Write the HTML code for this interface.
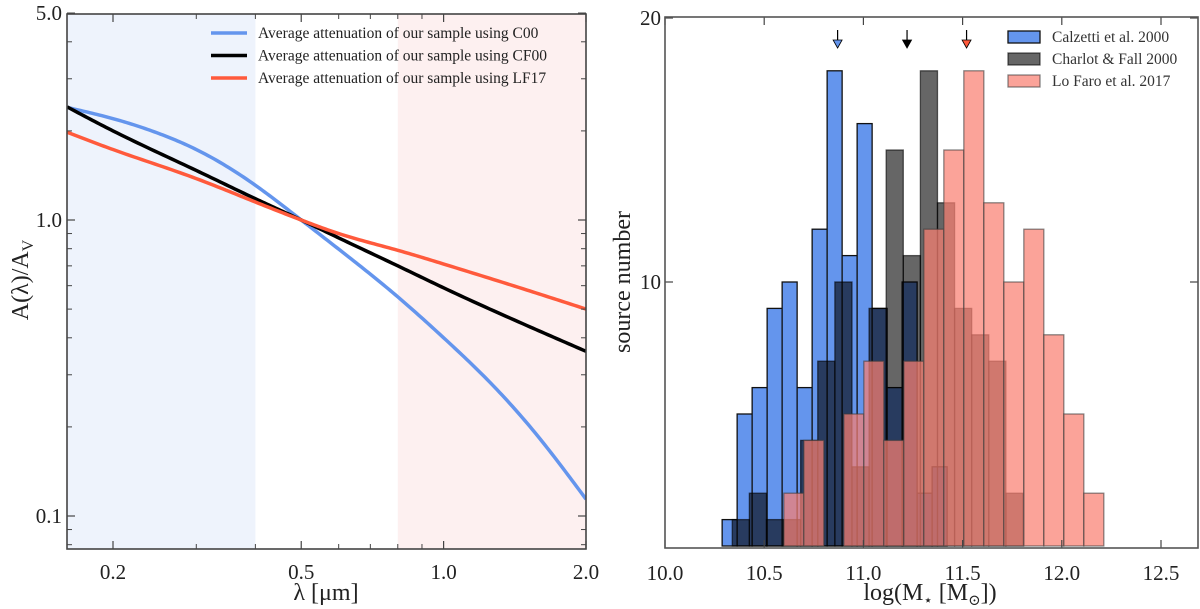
<!DOCTYPE html>
<html><head><meta charset="utf-8">
<style>
html,body{margin:0;padding:0;background:#fff;}
svg{display:block;}
svg text{font-family:"Liberation Serif","DejaVu Serif",serif;}
</style></head>
<body>
<svg id="fig" width="1200" height="609" viewBox="0 0 1200 609" xmlns="http://www.w3.org/2000/svg" font-family="Liberation Serif, serif"></svg>
<script>
// ---------- Left panel data ----------
const lamC00 = [0.16,0.2,0.25,0.3,0.4,0.5,0.63,0.8,1.0,1.25,1.6,2.0];
const valC00 = [2.40,2.20,1.96,1.73,1.31,1.0,0.75,0.55,0.40,0.284,0.182,0.114];
const lamCF00 = [0.16,0.2,0.3,0.4,0.5,0.6,0.8,1.0,1.5,2.0];
const valCF00 = [2.41,2.0,1.47,1.18,1.0,0.87,0.70,0.59,0.44,0.36];
const lamLF17 = [0.16,0.2,0.3,0.4,0.5,0.6,0.8,1.0,1.5,2.0];
const valLF17 = [1.98,1.73,1.38,1.15,1.0,0.9,0.79,0.71,0.58,0.5];
const xMajorLeft = [0.2,0.5,1.0,2.0];
const xMajorLeftLabels = ["0.2","0.5","1.0","2.0"];
const xMinorLeft = [0.3,0.4,0.6,0.7,0.8,0.9];
const yMajorLeft = [0.1,1.0,5.0];
const yMajorLeftLabels = ["0.1","1.0","5.0"];
const yMinorLeft = [0.08,0.09,0.2,0.3,0.4,0.5,0.6,0.7,0.8,0.9,2,3,4];

// ---------- Right panel data ----------
const blueStart = 10.288, blueWidth = 0.0756;
const blueCounts = [1,5,6,9,10,6,12,18,11,16,9,6,10,2,3];
const blackStart = 10.339, blackWidth = 0.0862;
const blackCounts = [1,2,1,1,4,7,10,3,9,15,11,18,13,9,8,7,2];
const redStart = 10.599, redWidth = 0.1008;
const redCounts = [2,4,0,5,7,4,7,12,15,18,13,10,12,8,5,2];
const meanMasses = [10.87,11.22,11.52];
const xTicksRight = [10.0,10.5,11.0,11.5,12.0,12.5];
const xTicksRightLabels = ["10.0","10.5","11.0","11.5","12.0","12.5"];
const yTicksRight = [10,20];
const yTicksRightLabels = ["10","20"];

const NS = "http://www.w3.org/2000/svg";
const svg = document.getElementById('fig');
function mk(tag, attrs, parent){
  const e = document.createElementNS(NS, tag);
  for (const k in attrs) e.setAttribute(k, attrs[k]);
  (parent||svg).appendChild(e);
  return e;
}

// ---------- Left axes ----------
const L = {x0:67, x1:586, y0:14, y1:549};
const lx = v => 113 + 473*(Math.log10(v) - Math.log10(0.2));
const ly = v => 220 - 296*Math.log10(v);

const gL = mk('g', {});



const shadeUV = mk('rect', {x:L.x0, y:L.y0, width:lx(0.4)-L.x0, height:L.y1-L.y0, fill:'#eef3fc'}, gL);


const shadeIR = mk('rect', {x:lx(0.8), y:L.y0, width:L.x1-lx(0.8), height:L.y1-L.y0, fill:'#fdf0f0'}, gL);



// natural cubic spline in log-log space, sampled densely
function curvePath(xs, ys){
  const X = xs.map(v=>Math.log10(v)), Y = ys.map(v=>Math.log10(v));
  const n = X.length;
  const h = [], a = [], l = [1], mu = [0], z = [0], c = new Array(n).fill(0), b = [], d = [];
  for (let i=0;i<n-1;i++) h.push(X[i+1]-X[i]);
  for (let i=1;i<n-1;i++) a[i] = 3/h[i]*(Y[i+1]-Y[i]) - 3/h[i-1]*(Y[i]-Y[i-1]);
  for (let i=1;i<n-1;i++){
    l[i] = 2*(X[i+1]-X[i-1]) - h[i-1]*mu[i-1];
    mu[i] = h[i]/l[i];
    z[i] = (a[i]-h[i-1]*z[i-1])/l[i];
  }
  for (let j=n-2;j>=0;j--){
    c[j] = (j===0?0:z[j]) - (j===0?0:mu[j])*c[j+1];
    b[j] = (Y[j+1]-Y[j])/h[j] - h[j]*(c[j+1]+2*c[j])/3;
    d[j] = (c[j+1]-c[j])/(3*h[j]);
  }
  let dstr = '';
  for (let j=0;j<n-1;j++){
    for (let k=0;k<=20;k++){
      if (j>0 && k===0) continue;
      const t = h[j]*k/20;
      const yv = Y[j] + b[j]*t + c[j]*t*t + d[j]*t*t*t;
      const px = lx(Math.pow(10, X[j]+t)), py = ly(Math.pow(10, yv));
      dstr += (dstr? ' L':'M') + px.toFixed(2)+','+py.toFixed(2);
    }
  }
  return dstr;
}
const clip = mk('clipPath', {id:'clipL'});
mk('rect', {x:L.x0, y:L.y0, width:L.x1-L.x0, height:L.y1-L.y0}, clip);
const gCurves = mk('g', {'clip-path':'url(#clipL)'}, gL);
const cB = mk('path', {d:curvePath(lamC00,valC00), fill:'none', stroke:'#6495ed', 'stroke-width':3.5, 'stroke-linejoin':'round'}, gCurves);


const cK = mk('path', {d:curvePath(lamCF00,valCF00), fill:'none', stroke:'#000', 'stroke-width':3.5, 'stroke-linejoin':'round'}, gCurves);


const cR = mk('path', {d:curvePath(lamLF17,valLF17), fill:'none', stroke:'#ff5a3c', 'stroke-width':3.5, 'stroke-linejoin':'round'}, gCurves);



const tickCol = '#444';
xMajorLeft.forEach((v,i)=>{
  const x = lx(v);
  mk('line',{x1:x,y1:L.y1,x2:x,y2:L.y1-8,stroke:tickCol,'stroke-width':1.2},gL);
  mk('line',{x1:x,y1:L.y0,x2:x,y2:L.y0+8,stroke:tickCol,'stroke-width':1.2},gL);
  const t = mk('text',{x:x,y:579,'font-size':21,'text-anchor':'middle',fill:'#222'},gL);
  t.textContent = xMajorLeftLabels[i];
  
  
});
xMinorLeft.forEach(v=>{
  const x = lx(v);
  mk('line',{x1:x,y1:L.y1,x2:x,y2:L.y1-5,stroke:tickCol,'stroke-width':1},gL);
  mk('line',{x1:x,y1:L.y0,x2:x,y2:L.y0+5,stroke:tickCol,'stroke-width':1},gL);
});
yMajorLeft.forEach((v,i)=>{
  const y = ly(v);
  mk('line',{x1:L.x0,y1:y,x2:L.x0+8,y2:y,stroke:tickCol,'stroke-width':1.2},gL);
  mk('line',{x1:L.x1,y1:y,x2:L.x1-8,y2:y,stroke:tickCol,'stroke-width':1.2},gL);
  const t = mk('text',{x:62,y:y+7,'font-size':21,'text-anchor':'end',fill:'#222'},gL);
  t.textContent = yMajorLeftLabels[i];
  
  
});
yMinorLeft.forEach(v=>{
  const y = ly(v);
  if (y < L.y0 || y > L.y1) return;
  mk('line',{x1:L.x0,y1:y,x2:L.x0+5,y2:y,stroke:tickCol,'stroke-width':1},gL);
  mk('line',{x1:L.x1,y1:y,x2:L.x1-5,y2:y,stroke:tickCol,'stroke-width':1},gL);
});
const frameL = mk('rect',{x:L.x0,y:L.y0,width:L.x1-L.x0,height:L.y1-L.y0,fill:'none',stroke:'#444','stroke-width':1.6},gL);



const xlabL = mk('text',{x:326,y:600,'font-size':24,'text-anchor':'middle',fill:'#222'},gL);
xlabL.textContent = 'λ [μm]';


const ylabL = mk('text',{x:0,y:0,'font-size':24,'text-anchor':'middle',fill:'#222',transform:'translate(28,280) rotate(-90)'},gL);
ylabL.innerHTML = 'A(λ)/A<tspan font-size="16" dy="5">V</tspan>';



const legL = [['#6495ed','Average attenuation of our sample using C00'],['#000','Average attenuation of our sample using CF00'],['#ff5a3c','Average attenuation of our sample using LF17']];
legL.forEach((e,i)=>{
  const y = 33 + i*22.5;
  const g = mk('g',{},gL);
  
  
  mk('line',{x1:211,y1:y,x2:247,y2:y,stroke:e[0],'stroke-width':3.5},g);
  const t = mk('text',{x:258,y:y+5,'font-size':15.5,fill:'#222'},g);
  t.textContent = e[1];
});

// ---------- Right axes ----------
const R = {x0:665, x1:1198, y0:17, y1:548};
const rx = v => 665 + 198.4*(v-10);
const ry = v => 546 - 26.4*v;
const gR = mk('g',{});



function drawHist(start,width,counts,fill,op,stroke,name){
  const g = mk('g',{},gR);
  
  
  counts.forEach((c,i)=>{
    if (c<=0) return;
    const x0 = rx(start+i*width), x1 = rx(start+(i+1)*width);
    const b = mk('rect',{x:x0,y:ry(c),width:x1-x0,height:ry(0)-ry(c),fill:fill,'fill-opacity':op,stroke:stroke,'stroke-width':1.3},g);
    
    
  });
}
drawHist(blueStart,blueWidth,blueCounts,'#6495ed',1,'#111','calzetti-histogram');
drawHist(blackStart,blackWidth,blackCounts,'#000',0.6,'rgba(0,0,0,0.6)','charlot-fall-histogram');
drawHist(redStart,redWidth,redCounts,'#fa8072',0.72,'rgba(60,60,60,0.6)','lo-faro-histogram');

const arrowCols = ['#6495ed','#000','#ff5a3c'];
meanMasses.forEach((m,i)=>{
  const x = rx(m);
  const g = mk('g',{},gR);
  
  
  mk('line',{x1:x,y1:30,x2:x,y2:41,stroke:'#000','stroke-width':1.2},g);
  mk('polygon',{points:(x-4.5)+',40 '+(x+4.5)+',40 '+x+',48',fill:arrowCols[i],stroke:'#000','stroke-width':0.8},g);
});

xTicksRight.forEach((v,i)=>{
  const x = rx(v);
  mk('line',{x1:x,y1:R.y1,x2:x,y2:R.y1-8,stroke:tickCol,'stroke-width':1.2},gR);
  mk('line',{x1:x,y1:R.y0,x2:x,y2:R.y0+8,stroke:tickCol,'stroke-width':1.2},gR);
  const t = mk('text',{x:x,y:580,'font-size':21,'text-anchor':'middle',fill:'#222'},gR);
  t.textContent = xTicksRightLabels[i];
  
  
});
yTicksRight.forEach((v,i)=>{
  const y = ry(v);
  mk('line',{x1:R.x0,y1:y,x2:R.x0+8,y2:y,stroke:tickCol,'stroke-width':1.2},gR);
  mk('line',{x1:R.x1,y1:y,x2:R.x1-8,y2:y,stroke:tickCol,'stroke-width':1.2},gR);
  const t = mk('text',{x:661,y:y+7,'font-size':21,'text-anchor':'end',fill:'#222'},gR);
  t.textContent = yTicksRightLabels[i];
  
  
});
const frameR = mk('rect',{x:R.x0,y:R.y0,width:R.x1-R.x0,height:R.y1-R.y0,fill:'none',stroke:'#555','stroke-width':1.6},gR);



const xlabR = mk('text',{x:930,y:600,'font-size':24,'text-anchor':'middle',fill:'#222'},gR);
xlabR.innerHTML = 'log(M<tspan font-size="15" dy="5">⋆</tspan><tspan dy="-5"> [M</tspan><tspan font-size="15" dy="5">⊙</tspan><tspan dy="-5">])</tspan>';


const ylabR = mk('text',{x:0,y:0,'font-size':24,'text-anchor':'middle',fill:'#222',transform:'translate(630,282) rotate(-90)'},gR);
ylabR.textContent = 'source number';



const legR = [['#6495ed',1,'#111','Calzetti et al. 2000'],['#000',0.6,'rgba(0,0,0,0.6)','Charlot & Fall 2000'],['#fa8072',0.72,'rgba(60,60,60,0.6)','Lo Faro et al. 2017']];
legR.forEach((e,i)=>{
  const y = 37 + i*22;
  const g = mk('g',{},gR);
  
  
  mk('rect',{x:1008,y:y-6,width:32,height:12,fill:e[0],'fill-opacity':e[1],stroke:e[2],'stroke-width':1.3},g);
  const t = mk('text',{x:1052,y:y+5,'font-size':15.5,fill:'#333'},g);
  t.textContent = e[3];
});
</script>
</body></html>
